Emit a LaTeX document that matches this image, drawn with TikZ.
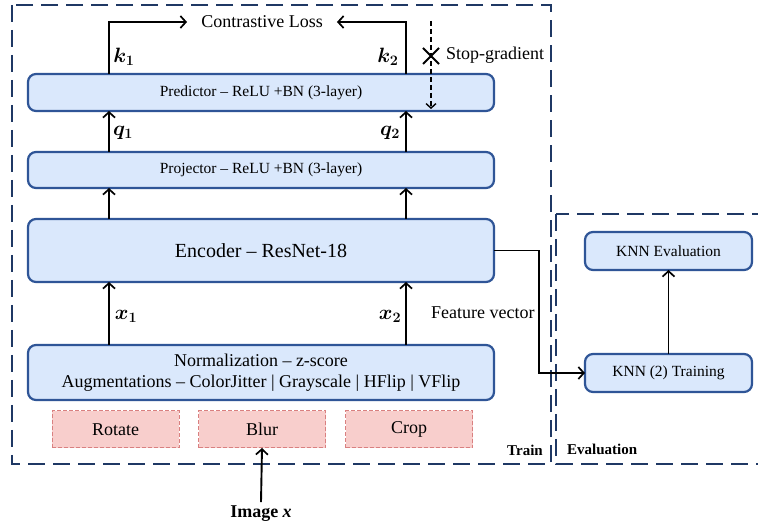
\documentclass[tikz,border=0pt]{standalone}
\usepackage{amsmath}
\usepackage{bm}
\usepackage{fontspec}
\setmainfont{Liberation Serif}
\usetikzlibrary{arrows.meta}
\definecolor{navy}{HTML}{1F3864}
\definecolor{boxfill}{HTML}{DAE8FC}
\definecolor{boxline}{HTML}{2F5597}
\definecolor{pinkfill}{HTML}{F8CECC}
\definecolor{pinkline}{HTML}{D98080}
\tikzset{
  x=1pt, y=-1pt,
  bluebox/.style={draw=boxline, fill=boxfill, line width=2.2pt, rounded corners=8pt,
    inner sep=0pt, outer sep=0pt, align=center},
  pinkbox/.style={draw=pinkline, fill=pinkfill, line width=1pt, dashed,
    dash pattern=on 4pt off 2pt, inner sep=0pt, outer sep=0pt, minimum width=127pt,
    minimum height=37pt, font=\fontsize{18}{20}\selectfont},
  region/.style={draw=navy, line width=2.8pt, dash pattern=on 17pt off 8pt},
  arr/.style={draw=black, line width=1.9pt, -{Straight Barb[length=5.5pt,width=12pt,line width=1.7pt]}},
  lbl/.style={inner sep=0pt, font=\fontsize{18}{20}\selectfont},
  mlbl/.style={inner sep=0pt, font=\fontsize{21}{23}\selectfont},
}
\begin{document}
\begin{tikzpicture}
\clip (0,0) rectangle (758,526);
\fill[white] (0,0) rectangle (758,526);
% regions
\draw[region] (12,5) rectangle (551,464);
\draw[region] (556,214) rectangle (775,464);
\node[lbl, anchor=east, font=\fontsize{15}{17}\selectfont\bfseries] (trainlbl) at (543,450) {Train};
\node[lbl, anchor=west, font=\fontsize{15}{17}\selectfont\bfseries] (evallbl) at (567,449) {Evaluation};

% column coordinates
\coordinate (cL) at (109,0);
\coordinate (cR) at (406,0);
\coordinate (cS) at (431,0);
\coordinate (fvc) at (539,0);

% main boxes
\node[bluebox, minimum width=466pt, minimum height=37pt, font=\fontsize{15.5}{17}\selectfont] (pred) at (261,92.5) {Predictor -- ReLU +BN (3-layer)};
\node[bluebox, minimum width=466pt, minimum height=36pt, font=\fontsize{15.5}{17}\selectfont] (proj) at (261,170) {Projector -- ReLU +BN (3-layer)};
\node[bluebox, minimum width=466pt, minimum height=63pt, font=\fontsize{20}{22}\selectfont] (enc) at (261,250.5) {Encoder -- ResNet-18};
\node[bluebox, minimum width=466pt, minimum height=55pt, font=\fontsize{18}{21}\selectfont] (norm) at (261,372.5) {Normalization -- z-score\\Augmentations -- ColorJitter | Grayscale | HFlip | VFlip};

\node[pinkbox] (rot) at (115.5,429.5) {Rotate};
\node[pinkbox] (blur) at (262,429.5) {Blur};
\node[pinkbox] (crop) at (409,429.5) {Crop};

\node[bluebox, minimum width=167pt, minimum height=38pt, font=\fontsize{15.5}{17}\selectfont] (knne) at (668.5,251) {KNN Evaluation};
\node[bluebox, minimum width=167pt, minimum height=38pt, font=\fontsize{15.5}{17}\selectfont] (knnt) at (668.5,373) {KNN (2) Training};

% contrastive loss
\node[lbl, inner xsep=14pt] (cl) at (262,22) {Contrastive Loss};
\draw[arr] (pred.north -| cL) |- (cl.west);
\draw[arr] (pred.north -| cR) |- (cl.east);
\node[mlbl] (k1) at (124,57) {$\bm{k}_{\bm{1}}$};
\node[mlbl] (k2) at (388,57) {$\bm{k}_{\bm{2}}$};

% stop gradient
\coordinate (sgtop) at (431,21);
\path (pred.south -| cS) coordinate (sgend0);
\draw[line width=1.4pt, dash pattern=on 5pt off 3pt, -{Straight Barb[length=4.5pt,width=10pt,line width=1.4pt]}] (sgtop) -- ([yshift=2pt]sgend0);
\coordinate (xm) at (431,56);
\draw[line width=2pt] (xm) ++(-8,-8) -- ++(16,16) (xm) ++(8,-8) -- ++(-16,16);
\node[lbl, anchor=west] (sg) at (446,55) {Stop-gradient};

% projector -> predictor
\draw[arr] (proj.north -| cL) -- (pred.south -| cL);
\draw[arr] (proj.north -| cR) -- (pred.south -| cR);
\node[mlbl] (q1) at (123,133) {$\bm{q}_{\bm{1}}$};
\node[mlbl] (q2) at (390,133) {$\bm{q}_{\bm{2}}$};

% encoder -> projector
\draw[arr] (enc.north -| cL) -- (proj.south -| cL);
\draw[arr] (enc.north -| cR) -- (proj.south -| cR);

% norm -> encoder
\draw[arr] (norm.north -| cL) -- (enc.south -| cL);
\draw[arr] (norm.north -| cR) -- (enc.south -| cR);
\node[mlbl] (x1) at (126,316) {$\bm{x}_{\bm{1}}$};
\node[mlbl] (x2) at (390,316) {$\bm{x}_{\bm{2}}$};

% feature vector
\draw[arr] (enc.east) -- (enc.east -| fvc) -- (fvc |- knnt.west) -- (knnt.west);
\node[lbl, anchor=west] (fv) at (431,313) {Feature vector};

% knn
\draw[arr] (knnt.north) -- (knne.south);

% image
\node[inner xsep=0pt, inner ysep=4pt, anchor=base, font=\fontsize{18}{20}\selectfont\bfseries] (img) at (261,518) {Image \textit{x}};
\draw[arr] (img.north) -- (blur.south);
\end{tikzpicture}
\end{document}
